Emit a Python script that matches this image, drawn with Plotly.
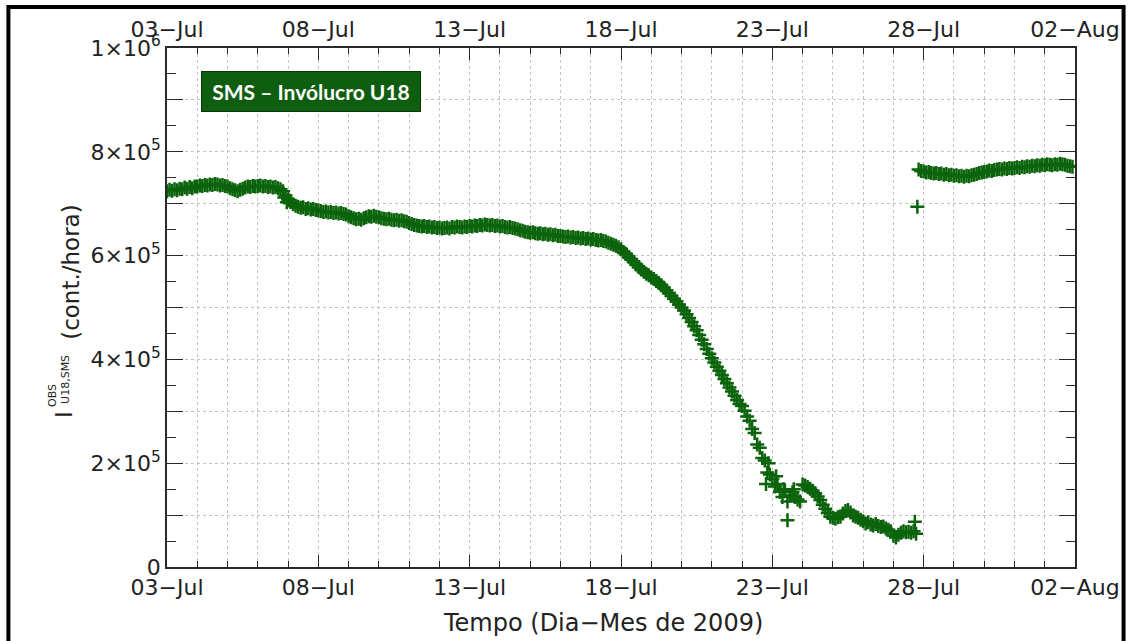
import plotly.graph_objects as go
import pandas as pd
import numpy as np

# ---------------- data (2-hourly, starting 2009-07-03 00:00), thousands of counts/hour
start_time = "2009-07-03 00:00"
counts_k = [
    724, 727, 725, 728, 726, 729, 728, 731, 729, 732, 730, 733,   # 03-Jul
    733, 735, 734, 736, 735, 737, 736, 738, 737, 735, 736, 734,   # 04-Jul
    733, 730, 728, 726, 724, 727, 729, 731, 733, 732, 734, 733,   # 05-Jul
    734, 735, 733, 734, 732, 733, 731, 732, 730, 728, 724, 716,   # 06-Jul
    708, 703, 699, 696, 694, 692, 693, 690, 691, 689, 690, 688,   # 07-Jul
    687, 686, 684, 685, 683, 684, 682, 683, 681, 682, 680, 679,   # 08-Jul
    676, 674, 672, 670, 671, 669, 672, 674, 676, 675, 677, 675,   # 09-Jul
    674, 672, 671, 670, 671, 669, 668, 669, 667, 668, 666, 665,   # 10-Jul
    663, 661, 659, 658, 657, 656, 657, 655, 656, 654, 655, 653,   # 11-Jul
    654, 652, 653, 654, 652, 655, 654, 656, 655, 654, 656, 655,   # 12-Jul
    657, 656, 658, 657, 659, 658, 660, 659, 658, 659, 657, 658,   # 13-Jul
    656, 657, 655, 654, 655, 653, 652, 651, 649, 648, 646, 645,   # 14-Jul
    644, 645, 643, 642, 643, 641, 642, 640, 641, 639, 640, 638,   # 15-Jul
    638, 637, 636, 637, 635, 636, 634, 635, 633, 634, 632, 633,   # 16-Jul
    631, 632, 630, 629, 630, 628, 627, 625, 623, 621, 619, 616,   # 17-Jul
    612, 607, 603, 598, 593, 588, 583, 578, 573, 569, 565, 562,   # 18-Jul
    558, 555, 551, 547, 543, 538, 533, 528, 522, 517, 512, 506,   # 19-Jul
    500, 494, 487, 480, 472, 464, 456, 447, 438, 429, 420, 411,   # 20-Jul
    402, 394, 386, 378, 370, 362, 354, 346, 338, 330, 322, 314,   # 21-Jul
    310, 301, 290, 282, 266, 258, 236, 230, 210, 205, 182, 178,   # 22-Jul
    170, 155, 160, 145, 135, 148, 126, 138, 144, 135, 130, 126,   # 23-Jul
    159, 157, 154, 151, 147, 142, 136, 129, 120, 112, 104, 97,    # 24-Jul
    95, 93, 96, 97, 103, 108, 110, 105, 99, 97, 95, 91,           # 25-Jul
    88, 84, 86, 82, 80, 83, 79, 77, 78, 74, 72, 69,               # 26-Jul
    60, 57, 62, 66, 69, 67, 68, 66, 69, 64, 766, 763,             # 27-Jul
    762, 760, 761, 759, 758, 759, 757, 758, 756, 757, 755, 756,   # 28-Jul
    754, 755, 753, 754, 752, 754, 753, 755, 756, 757, 759, 760,   # 29-Jul
    761, 762, 764, 763, 765, 766, 767, 766, 768, 767, 769, 768,   # 30-Jul
    769, 770, 769, 771, 770, 772, 771, 773, 772, 774, 773, 775,   # 31-Jul
    774, 776, 775, 774, 776, 775, 777, 776, 775, 773, 772, 771,   # 01-Aug
]

# isolated / scattered points
outlier_times = ["2009-07-06 21:00", "2009-07-06 23:00", "2009-07-07 01:00",
                 "2009-07-22 19:00", "2009-07-22 21:00", "2009-07-23 03:00",
                 "2009-07-23 09:00", "2009-07-23 12:00", "2009-07-23 17:00",
                 "2009-07-27 17:00", "2009-07-27 19:00"]
outlier_counts_k = [712, 703, 706, 160, 200, 175, 150, 90, 150, 87, 694]

x_tick_dates = ["2009-07-03", "2009-07-08", "2009-07-13", "2009-07-18",
                "2009-07-23", "2009-07-28", "2009-08-02"]
x_tick_text = ["03\u2212Jul", "08\u2212Jul", "13\u2212Jul", "18\u2212Jul",
               "23\u2212Jul", "28\u2212Jul", "02\u2212Aug"]
y_tick_vals = [0, 1e5, 2e5, 3e5, 4e5, 5e5, 6e5, 7e5, 8e5, 9e5, 1e6]
y_tick_text = ["0", " ", "2\u00d710<sup>5</sup>", " ", "4\u00d710<sup>5</sup>", " ",
               "6\u00d710<sup>5</sup>", " ", "8\u00d710<sup>5</sup>", " ", "1\u00d710<sup>6</sup>"]
x_range = ["2009-07-03", "2009-08-02"]
y_range = [0, 1e6]

legend_label = "SMS \u2013 Inv\u00f3lucro U18"
x_title = "Tempo (Dia\u2212Mes de 2009)"

# ---------------- build
times = pd.date_range(start_time, periods=len(counts_k), freq="2h")
counts = np.array(counts_k) * 1000.0
out_t = pd.to_datetime(outlier_times)
out_c = np.array(outlier_counts_k) * 1000.0

GREEN = "#0b640b"
AX = "#2a2a2a"
GRID = "#c4c4c4"
FONT = "DejaVu Sans"
TXT = "#222222"

marker = dict(symbol="cross-thin", size=10, line=dict(width=2.5, color=GREEN), color=GREEN)

fig = go.Figure()
fig.add_trace(go.Scatter(x=times, y=counts, mode="markers", marker=marker, hoverinfo="skip"))
fig.add_trace(go.Scatter(x=out_t, y=out_c, mode="markers", marker=marker, hoverinfo="skip"))
fig.add_trace(go.Scatter(x=[x_range[0]], y=[None], xaxis="x2", yaxis="y2", mode="markers",
                         showlegend=False, hoverinfo="skip"))

L, R, T, B = 167, 49, 48, 74
W, H = 1132, 641
PW, PH = W - L - R, H - T - B


def px(x):
    return (x - L) / PW


def py(y):
    return (H - B - y) / PH


common_x = dict(type="date", range=x_range, tickmode="array", tickvals=x_tick_dates,
                ticktext=x_tick_text, ticks="inside", ticklen=12, tickwidth=1.3, tickcolor=AX,
                showline=True, linecolor=AX, linewidth=1.6, zeroline=False,
                tickfont=dict(family=FONT, size=22, color=TXT))
fig.update_layout(
    xaxis=dict(**common_x, showgrid=True, gridcolor=GRID, gridwidth=1, griddash="dot",
               minor=dict(tick0="2009-07-03", dtick=86400000, ticks="inside", ticklen=6,
                          tickcolor=AX, tickwidth=1.3, showgrid=True, gridcolor=GRID,
                          griddash="dot", gridwidth=1)),
    xaxis2=dict(**common_x, overlaying="x", side="top", showgrid=False,
                minor=dict(tick0="2009-07-03", dtick=86400000, ticks="inside", ticklen=6,
                           tickcolor=AX, tickwidth=1.3, showgrid=False)),
    yaxis=dict(range=y_range, tickmode="array", tickvals=y_tick_vals, ticktext=y_tick_text,
               ticks="inside", ticklen=16, tickwidth=1.3, tickcolor=AX, showline=True,
               linecolor=AX, linewidth=1.6, zeroline=False, showgrid=True, gridcolor=GRID,
               griddash="dot", gridwidth=1,
               tickfont=dict(family=FONT, size=22, color=TXT),
               minor=dict(tick0=0, dtick=5e4, ticks="inside", ticklen=9, tickcolor=AX,
                          tickwidth=1.3, showgrid=False)),
    yaxis2=dict(range=y_range, overlaying="y", side="right", tickmode="array",
                tickvals=y_tick_vals, showticklabels=False, ticks="inside", ticklen=16,
                tickwidth=1.3, tickcolor=AX, showline=True, linecolor=AX, linewidth=1.6,
                zeroline=False, showgrid=False,
                minor=dict(tick0=0, dtick=5e4, ticks="inside", ticklen=9, tickcolor=AX,
                           tickwidth=1.3, showgrid=False)),
    width=W, height=H, margin=dict(l=L, r=R, t=T, b=B, pad=0),
    plot_bgcolor="white", paper_bgcolor="white", showlegend=False,
)

ann = []
# legend box
ann.append(dict(xref="paper", yref="paper", x=px(201), y=py(71), xanchor="left", yanchor="top",
                text="<b>" + legend_label + "</b>", showarrow=False, width=218, height=39,
                bgcolor="#0f5e0f", bordercolor="#083808", borderwidth=1, borderpad=0,
                align="center", valign="middle",
                font=dict(family="Lato", size=21, color="white")))
# x title
ann.append(dict(xref="paper", yref="paper", x=px(607), y=py(623), xanchor="center",
                yanchor="middle", text=x_title, showarrow=False,
                font=dict(family=FONT, size=24, color=TXT)))
# y title pieces (rotated)
ann.append(dict(xref="paper", yref="paper", x=px(70), y=py(272), xanchor="center",
                yanchor="middle", text="(cont./hora)", textangle=-90, showarrow=False,
                font=dict(family=FONT, size=23, color=TXT)))
ann.append(dict(xref="paper", yref="paper", x=px(63), y=py(414), xanchor="center",
                yanchor="middle", text="I", textangle=-90, showarrow=False,
                font=dict(family=FONT, size=23, color=TXT)))
ann.append(dict(xref="paper", yref="paper", x=px(51), y=py(396), xanchor="center",
                yanchor="middle", text="OBS", textangle=-90, showarrow=False,
                font=dict(family=FONT, size=11, color=TXT)))
ann.append(dict(xref="paper", yref="paper", x=px(64), y=py(379), xanchor="center",
                yanchor="middle", text="U18,SMS", textangle=-90, showarrow=False,
                font=dict(family=FONT, size=11, color=TXT)))
fig.update_layout(annotations=ann)

# outer frame of the picture
fig.add_shape(type="rect", xref="paper", yref="paper", x0=px(7), x1=px(1132), y0=py(700), y1=py(7),
              line=dict(color="black", width=4), layer="above")

fig.write_html("out.html", config={"displayModeBar": False},
               post_script="document.body.style.margin='0';")
